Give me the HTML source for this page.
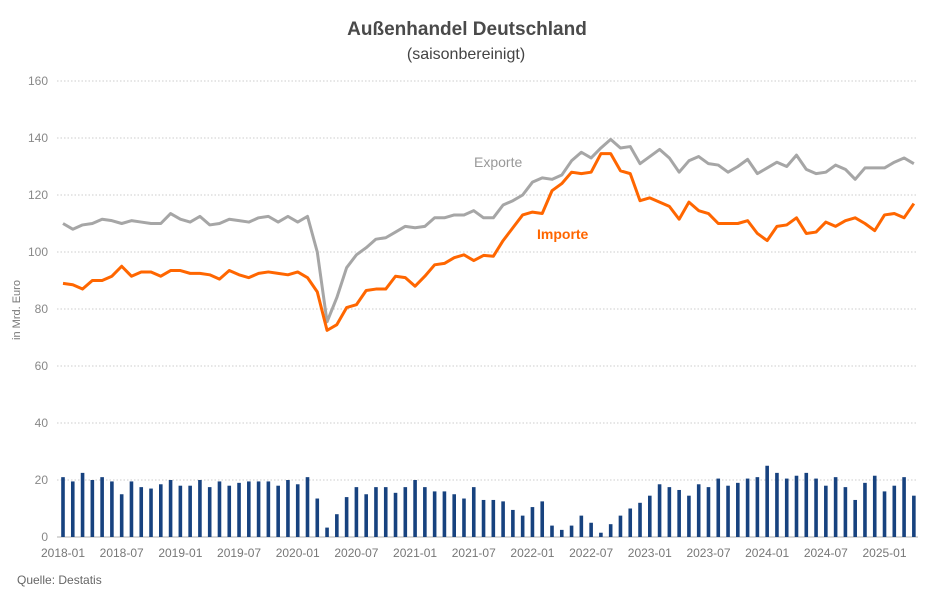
<!DOCTYPE html>
<html><head><meta charset="utf-8"><style>
body{margin:0;background:#fff;}
svg text{font-family:"Liberation Sans",sans-serif;}
</style></head><body>
<svg id="c" width="945" height="595" xmlns="http://www.w3.org/2000/svg">
<text x="467" y="35" text-anchor="middle" font-size="19" font-weight="bold" fill="#4a4a4a">Außenhandel Deutschland</text>
<text x="466" y="59" text-anchor="middle" font-size="16" fill="#444">(saisonbereinigt)</text>
<text transform="translate(20,310) rotate(-90)" text-anchor="middle" font-size="11" fill="#777">in Mrd. Euro</text>
<text x="17" y="584" font-size="12" fill="#666">Quelle: Destatis</text>
<g id="grid"></g><g id="bars"></g><g id="lines"></g><g id="xl"></g>
<text x="474" y="167" font-size="14" fill="#999">Exporte</text>
<text x="537" y="239" font-size="14" font-weight="bold" fill="#ff6600">Importe</text>
</svg>
<script>
const yTicks=[0,20,40,60,80,100,120,140,160];
const xTickLabels=["2018-01","2018-07","2019-01","2019-07","2020-01","2020-07","2021-01","2021-07","2022-01","2022-07","2023-01","2023-07","2024-01","2024-07","2025-01"];
const balance=[21,19.5,22.5,20,21,19.5,15,19.5,17.5,17,18.5,20,
18,18,20,17.5,19.5,18,19,19.5,19.5,19.5,18,20,
18.5,21,13.5,3.3,8,14,17.5,15,17.5,17.5,15.5,17.5,
20,17.5,16,16,15,13.5,17.5,13,13,12.5,9.5,7.5,
10.5,12.5,4,2.5,4,7.5,5,1.5,4.5,7.5,10,12,
14.5,18.5,17.5,16.5,14.5,18.5,17.5,20.5,18,19,20.5,21,
25,22.5,20.5,21.5,22.5,20.5,18,21,17.5,13,19,21.5,
16,18,21,14.5];
const exportsData=[110,108,109.5,110,111.5,111,110,111,110.5,110,110,113.5,
111.5,110.5,112.5,109.5,110,111.5,111,110.5,112,112.5,110.5,112.5,
110.5,112.5,100,75.5,84,94.5,99,101.5,104.5,105,107,109,
108.5,109,112,112,113,113,114.5,112,112,116.5,118,120,
124.5,126,125.5,127,132,135,133,136.5,139.5,136.5,137,131,
133.5,136,133,128,132,133.5,131,130.5,128,130,132.5,127.5,
129.5,131.5,130,134,129,127.5,128,130.5,129,125.5,129.5,129.5,
129.5,131.5,133,131];
const importsData=[89,88.5,87,90,90,91.5,95,91.5,93,93,91.5,93.5,
93.5,92.5,92.5,92,90.5,93.5,92,91,92.5,93,92.5,92,
93,91,86,72.5,74.5,80.5,81.5,86.5,87,87,91.5,91,
88,91.5,95.5,96,98,99,97,98.8,98.5,104,108.5,113,
114,113.5,121.5,124,128,127.5,128,134.5,134.5,128.5,127.5,118,
119,117.5,116,111.5,117.5,114.5,113.5,110,110,110,111,106.5,
104,109,109.5,112,106.5,107,110.5,109,111,112,110,107.5,
113,113.5,112,117];
const NS="http://www.w3.org/2000/svg";
const x=i=>63+i*9.78, y=v=>537-v*2.85;
function mk(t,a,p){const e=document.createElementNS(NS,t);for(const k in a)e.setAttribute(k,a[k]);document.getElementById(p).appendChild(e);return e;}
yTicks.forEach(t=>{
 if(t>0){const l=mk('line',{x1:57,x2:918,y1:y(t),y2:y(t),stroke:'#ccc','stroke-dasharray':'1.5,2'},'grid');
 
 }
 const tx=mk('text',{x:48,y:y(t)+4,'text-anchor':'end','font-size':12,fill:'#888'},'grid');tx.textContent=t;
 
 
});
const base=mk('line',{x1:57,x2:918,y1:537,y2:537,stroke:'#ccc','stroke-width':1.5},'grid');


balance.forEach((v,i)=>{const r=mk('rect',{x:x(i)-1.8,y:y(v),width:3.6,height:v*2.85,fill:'#17427f'},'bars');
 
 });
[[exportsData,'#a6a6a6','exports-line'],[importsData,'#ff6600','imports-line']].forEach(([d,c,n])=>{
 const p=mk('polyline',{points:d.map((v,i)=>x(i)+','+y(v)).join(' '),fill:'none',stroke:c,'stroke-width':3,'stroke-linejoin':'round'},'lines');
 
 });
xTickLabels.forEach((s,i)=>{const t=mk('text',{x:x(i*6),y:557,'text-anchor':'middle','font-size':12,fill:'#777'},'xl');t.textContent=s;
 
 });
</script>
</body></html>
